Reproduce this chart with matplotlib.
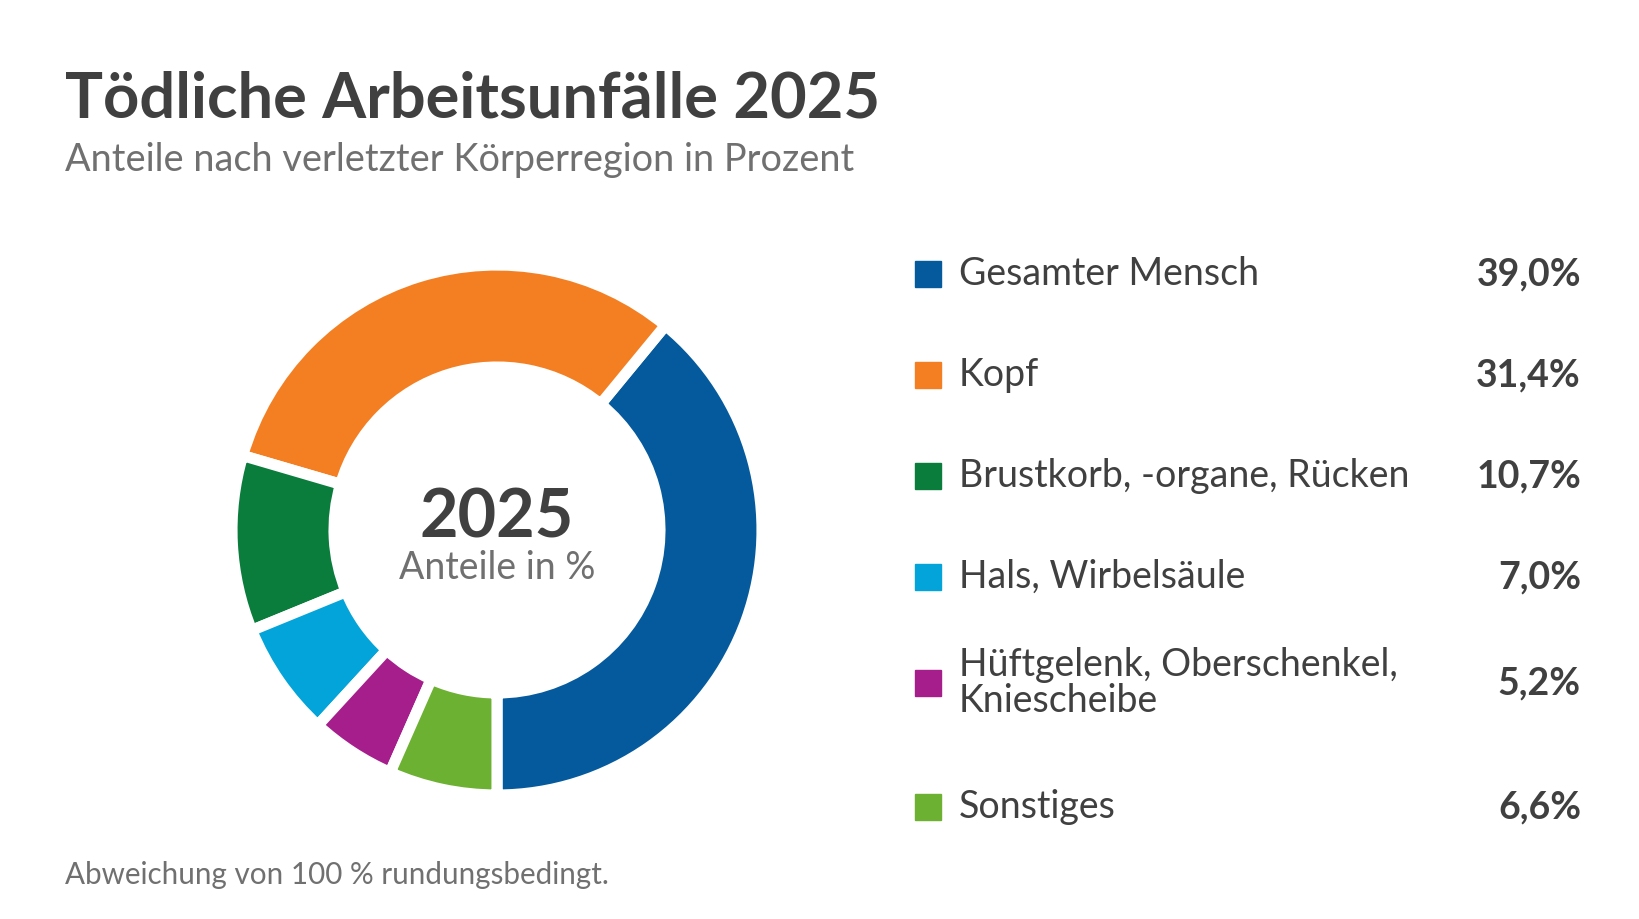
import matplotlib.pyplot as plt

# data
labels = ["Gesamter Mensch", "Kopf", "Brustkorb, -organe, Rücken", "Hals, Wirbelsäule",
          "Hüftgelenk, Oberschenkel,\nKniescheibe", "Sonstiges"]
values = [39.0, 31.4, 10.7, 7.0, 5.2, 6.6]
colors = ["#045a9c", "#f47f22", "#0a7d3d", "#02a4d9", "#a51e8c", "#6cb131"]

W, H = 1639, 919
DARK = "#404040"
GREY = "#707070"
FONT = "Lato"

fig = plt.figure(figsize=(W / 100, H / 100), dpi=100)
fig.patch.set_facecolor("white")


def fx(x):
    return x / W


def fy(y):
    return 1 - y / H


# titles
fig.text(fx(65), fy(118), "Tödliche Arbeitsunfälle 2025", fontsize=45.5, fontweight="bold",
         color=DARK, family=FONT, va="baseline")
fig.text(fx(65), fy(171), "Anteile nach verletzter Körperregion in Prozent", fontsize=27.3,
         color=GREY, family=FONT, va="baseline")

# donut
cx, cy, r = 497, 530, 265
ax = fig.add_axes([fx(cx - r), fy(cy + r), 2 * r / W, 2 * r / H])
wedges, _ = ax.pie(values, colors=colors, startangle=-90, counterclock=True,
                   wedgeprops=dict(width=0.385, edgecolor="white", linewidth=8))
ax.set_xlim(-1, 1)
ax.set_ylim(-1, 1)
ax.set_aspect("equal")
ax.axis("off")
for w in wedges:
    w.set_clip_on(False)

fig.text(fx(cx), fy(538), "2025", fontsize=48, fontweight="bold", color=DARK,
         family=FONT, ha="center", va="baseline")
fig.text(fx(cx), fy(579), "Anteile in %", fontsize=27, color=GREY, family=FONT,
         ha="center", va="baseline")

# legend
rows = [274, 375, 476, 577, 683, 807]
sq = 26
for lab, val, col, yc in zip(labels, values, colors, rows):
    fig.patches.append(plt.Rectangle((fx(915), fy(yc + sq / 2)), sq / W, sq / H,
                                     transform=fig.transFigure, color=col))
    fig.text(fx(959), fy(yc), lab, fontsize=27, color=DARK, family=FONT,
             va="center", linespacing=1.0)
    fig.text(fx(1581), fy(yc), f"{val:.1f}%".replace(".", ","), fontsize=27,
             fontweight="bold", color=DARK, family=FONT, ha="right", va="center")

fig.text(fx(65), fy(884), "Abweichung von 100 % rundungsbedingt.", fontsize=21.3,
         color=GREY, family=FONT, va="baseline")

fig.savefig("out.png", dpi=100)
